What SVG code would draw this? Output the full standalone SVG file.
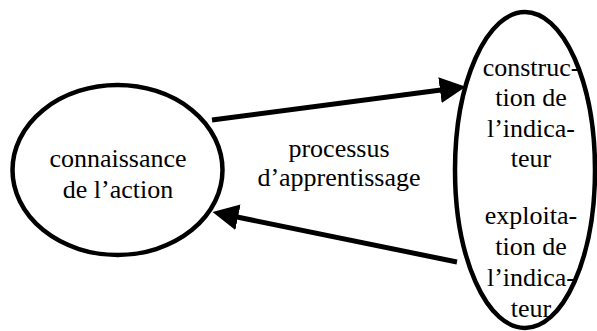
<svg xmlns="http://www.w3.org/2000/svg" width="597" height="331" viewBox="0 0 597 331">
<style>
.node{fill:#fff;stroke:#000;stroke-width:4.5}
.lbl{font-size:26px;fill:#000;text-anchor:middle}
.edge{stroke:#000;stroke-width:5;fill:none}
</style>
<defs>
<marker id="ah" viewBox="0 -13 26 26" refX="1" refY="0" markerWidth="26" markerHeight="26" markerUnits="userSpaceOnUse" orient="auto">
<path d="M0,-13 L26,0 L0,13 z" fill="#000"/>
</marker>
</defs>
<rect width="597" height="331" fill="#fff"/>
<g id="connectors">
<line class="edge" x1="212" y1="120" x2="441" y2="90" marker-end="url(#ah)"/>
<line class="edge" x1="457" y1="262" x2="237" y2="217" marker-end="url(#ah)"/>
<g id="edge-label" font-family="Liberation Serif, Times New Roman, Tinos, Noto Serif, DejaVu Serif, FreeSerif, serif">
<text class="lbl" x="339" y="157">processus</text>
<text class="lbl" x="339" y="186">d’apprentissage</text>
</g>
</g>
<g id="node-connaissance" font-family="Liberation Serif, Times New Roman, Tinos, Noto Serif, DejaVu Serif, FreeSerif, serif">
<ellipse class="node" cx="117.5" cy="170" rx="105" ry="85"/>
<text class="lbl" x="118" y="167">connaissance</text>
<text class="lbl" x="118" y="198">de l’action</text>
</g>
<g id="node-indicateur" font-family="Liberation Serif, Times New Roman, Tinos, Noto Serif, DejaVu Serif, FreeSerif, serif">
<ellipse class="node" cx="525" cy="170" rx="70" ry="158"/>
<text class="lbl" x="531" y="76">construc-</text>
<text class="lbl" x="531" y="106">tion de</text>
<text class="lbl" x="531" y="137">l’indica-</text>
<text class="lbl" x="531" y="167">teur</text>
<text class="lbl" x="531" y="224">exploita-</text>
<text class="lbl" x="531" y="255">tion de</text>
<text class="lbl" x="531" y="286">l’indica-</text>
<text class="lbl" x="531" y="317">teur</text>
</g>
</svg>
